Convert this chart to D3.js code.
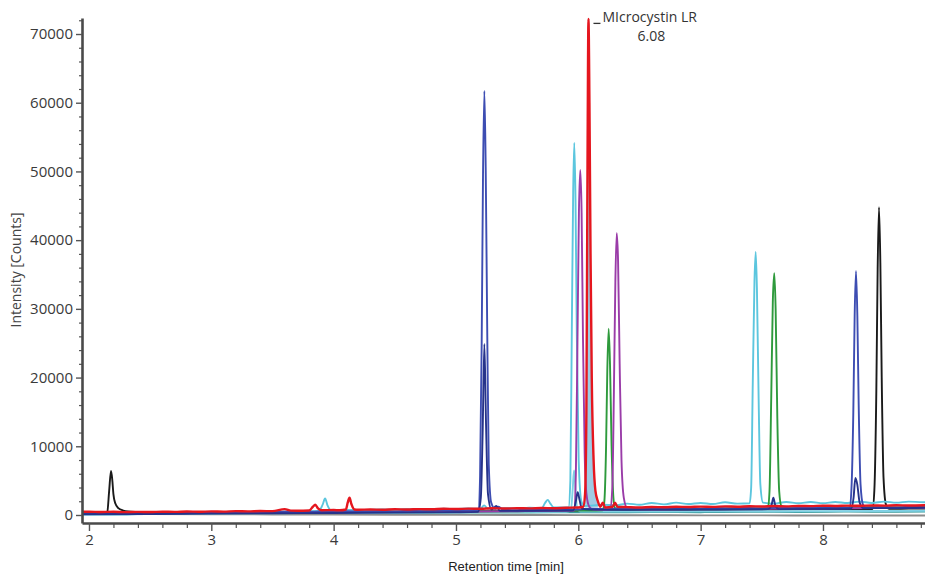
<!DOCTYPE html>
<html>
<head>
<meta charset="utf-8">
<script src="https://cdn.jsdelivr.net/npm/d3@7"></script>
<style>
  html, body { margin: 0; padding: 0; background: #fff; }
  svg { display: block; }
</style>
</head>
<body>
<svg id="chart" width="925" height="575"></svg>
<script>
// ---------- data (retention time [min], intensity [counts]) ----------
const xMajorTicks = [2, 3, 4, 5, 6, 7, 8];
const yMajorTicks = [0, 10000, 20000, 30000, 40000, 50000, 60000, 70000];
const peakLabel = ["MIcrocystin LR", "6.08"];
const peakLabelPoint = [6.083, 72200];
const fillRange = [6.05, 6.16];
const fillBase = 1100;

const grayTrace = [[1.943,150],[2.5,120],[3.0,100],[3.5,80],[4.0,60],[4.5,40],[5.0,20],[5.5,0],[6.0,-20],[6.5,-40],[7.0,-50],[7.5,-60],[8.0,-70],[8.5,-80],[8.834,-80]];
const tealTrace = [[1.943,250],[2.3,230],[2.7,290],[3.0,260],[3.4,320],[3.8,290],[4.2,340],[4.6,310],[5.0,360],[5.4,340],[5.8,400],[6.2,380],[6.6,430],[7.0,410],[7.4,460],[7.8,440],[8.2,490],[8.6,470],[8.834,500]];
const blackTrace = [[1.943,250],[2.0,300],[2.1,280],[2.13,300],[2.15,500],[2.165,3500],[2.18,6400],[2.19,5200],[2.2,3000],[2.215,1700],[2.24,1000],[2.28,650],[2.32,500],[2.4,420],[2.5,350],[2.6,380],[2.75,300],[2.9,370],[3.0,350],[3.1,420],[3.25,300],[3.4,380],[3.5,420],[3.75,380],[3.9,450],[4.0,420],[4.25,450],[4.5,480],[4.75,500],[5.0,520],[5.25,560],[5.5,600],[5.75,620],[6.0,650],[6.25,680],[6.5,700],[6.75,720],[7.0,750],[7.25,780],[7.5,800],[7.75,820],[8.0,850],[8.25,870],[8.405,880],[8.42,3600],[8.436,17900],[8.447,35800],[8.458,44800],[8.469,36700],[8.48,20200],[8.495,5400],[8.515,1500],[8.54,900],[8.7,920],[8.834,950]];
const lightCyanTrace = [[1.943,100],[2.5,150],[3.0,200],[3.5,250],[4.0,300],[4.5,350],[5.0,400],[5.5,420],[5.9,450],[5.94,800],[5.955,4000],[5.965,6500],[5.975,4500],[5.99,1000],[6.02,500],[6.5,500],[7.0,520],[7.5,540],[8.0,560],[8.5,580],[8.834,600]];
const cyanTrace = [[1.943,50],[2.25,50],[2.5,200],[2.75,250],[2.85,400],[3.0,300],[3.25,350],[3.5,450],[3.75,550],[3.88,600],[3.91,1500],[3.93,2400],[3.95,1400],[3.98,650],[4.1,750],[4.25,700],[4.4,820],[4.5,750],[4.6,850],[4.75,800],[4.9,900],[5.0,850],[5.1,950],[5.2,900],[5.23,1400],[5.26,900],[5.4,1000],[5.5,950],[5.6,1050],[5.7,1000],[5.73,1800],[5.75,2200],[5.77,1700],[5.8,1100],[5.92,1100],[5.935,5000],[5.947,27000],[5.958,47000],[5.967,54200],[5.977,46000],[5.988,26000],[6.003,8000],[6.025,2000],[6.05,1300],[6.2,1500],[6.3,1400],[6.4,1650],[6.5,1500],[6.6,1750],[6.7,1550],[6.8,1800],[6.9,1600],[7.0,1750],[7.1,1600],[7.2,1850],[7.3,1650],[7.4,1700],[7.413,4000],[7.426,19000],[7.44,34000],[7.45,38300],[7.46,33000],[7.474,17000],[7.488,4500],[7.51,1800],[7.6,1650],[7.7,1900],[7.8,1700],[7.9,1900],[8.0,1700],[8.1,1900],[8.2,1750],[8.3,1950],[8.4,1750],[8.5,1950],[8.6,1800],[8.7,1950],[8.834,1850]];
const greenTrace = [[1.943,150],[2.5,200],[3.0,300],[3.5,350],[4.0,400],[4.5,450],[5.0,500],[5.5,550],[6.0,650],[6.2,700],[6.213,2000],[6.227,10000],[6.237,21000],[6.248,27100],[6.259,22000],[6.272,10000],[6.287,2500],[6.3,1000],[6.4,850],[6.5,800],[6.7,950],[7.0,900],[7.3,1000],[7.5,950],[7.55,1000],[7.563,3500],[7.577,17000],[7.59,31000],[7.602,35200],[7.613,30000],[7.627,14000],[7.642,3500],[7.66,1300],[7.7,1000],[8.0,1050],[8.3,1150],[8.5,1100],[8.834,1150]];
const purpleTrace = [[1.943,200],[2.5,250],[3.0,300],[3.5,350],[4.0,400],[4.5,450],[5.0,500],[5.5,550],[5.9,600],[5.965,650],[5.98,6000],[5.993,25000],[6.005,44000],[6.016,50200],[6.027,44000],[6.038,26000],[6.052,9000],[6.067,3000],[6.09,1200],[6.12,800],[6.2,750],[6.26,800],[6.278,4000],[6.291,18000],[6.303,34000],[6.314,41000],[6.325,37000],[6.338,22000],[6.353,8000],[6.372,2500],[6.4,1000],[6.5,800],[7.0,850],[7.5,900],[8.0,950],[8.5,1000],[8.834,1000]];
const blueTrace = [[1.943,150],[2.1,250],[2.25,200],[2.4,280],[2.5,150],[2.6,260],[2.75,250],[2.9,350],[3.0,300],[3.1,400],[3.25,350],[3.4,450],[3.5,400],[3.6,480],[3.75,420],[3.9,520],[4.0,450],[4.1,550],[4.25,500],[4.4,580],[4.5,520],[4.6,620],[4.75,550],[4.9,650],[5.0,600],[5.1,680],[5.17,650],[5.184,700],[5.197,5600],[5.21,24700],[5.221,49400],[5.232,61700],[5.243,50600],[5.255,27800],[5.268,7400],[5.288,1800],[5.32,900],[5.35,1200],[5.38,800],[5.5,700],[5.6,820],[5.75,750],[5.85,880],[6.0,800],[6.1,920],[6.25,850],[6.35,950],[6.5,850],[6.6,980],[6.75,900],[6.85,1000],[7.0,900],[7.1,1020],[7.25,950],[7.35,1050],[7.5,950],[7.65,1070],[7.75,1000],[7.9,1100],[8.0,1000],[8.1,1120],[8.2,1050],[8.218,1100],[8.233,3900],[8.248,15000],[8.259,29000],[8.27,35500],[8.281,29000],[8.292,16000],[8.307,4500],[8.327,1500],[8.35,1050],[8.45,1150],[8.6,1100],[8.7,1200],[8.834,1150]];
const navyTrace = [[1.943,100],[2.5,150],[3.0,200],[3.5,250],[4.0,300],[4.5,350],[5.0,400],[5.18,450],[5.203,2500],[5.218,12000],[5.232,24900],[5.246,13000],[5.262,3000],[5.29,800],[5.33,1300],[5.36,600],[5.6,600],[5.9,650],[5.96,700],[5.98,2000],[5.995,3300],[6.01,2200],[6.03,900],[6.1,800],[6.4,750],[6.8,800],[7.2,800],[7.55,850],[7.58,1500],[7.595,2500],[7.61,1400],[7.64,850],[8.0,900],[8.23,950],[8.25,2500],[8.265,5400],[8.28,4500],[8.3,1800],[8.33,1000],[8.6,1000],[8.834,1050]];
const redTrace = [[1.943,480],[2.0,480],[2.1,430],[2.2,470],[2.3,420],[2.4,460],[2.5,430],[2.6,480],[2.7,450],[2.8,500],[2.9,470],[3.0,520],[3.1,490],[3.2,560],[3.3,520],[3.4,580],[3.5,560],[3.6,850],[3.65,640],[3.7,620],[3.8,660],[3.83,1200],[3.85,1500],[3.87,1000],[3.9,700],[4.0,720],[4.05,680],[4.1,800],[4.115,1800],[4.13,2500],[4.145,1600],[4.17,800],[4.2,760],[4.3,800],[4.4,770],[4.5,830],[4.6,800],[4.7,860],[4.8,830],[4.9,900],[5.0,870],[5.1,920],[5.2,900],[5.3,980],[5.4,940],[5.5,990],[5.6,960],[5.7,1020],[5.8,990],[5.9,1060],[6.0,1100],[6.04,1200],[6.055,3000],[6.066,15000],[6.075,50000],[6.083,72200],[6.091,60000],[6.1,38000],[6.11,20000],[6.125,8000],[6.14,3500],[6.16,2000],[6.18,1200],[6.2,1800],[6.22,1100],[6.28,1200],[6.3,1800],[6.32,1200],[6.4,1150],[6.5,1100],[6.6,1160],[6.7,1130],[6.8,1190],[6.9,1160],[7.0,1220],[7.1,1180],[7.2,1250],[7.3,1210],[7.4,1270],[7.5,1240],[7.6,1300],[7.7,1260],[7.8,1320],[7.9,1290],[8.0,1350],[8.1,1320],[8.2,1370],[8.3,1340],[8.4,1390],[8.5,1360],[8.6,1410],[8.7,1380],[8.834,1420]];

const seriesNames = ["gray","teal","black","lightCyan","cyan","green","purple","blue","navy","red"];
const seriesData = [grayTrace, tealTrace, blackTrace, lightCyanTrace, cyanTrace, greenTrace, purpleTrace, blueTrace, navyTrace, redTrace];
const seriesColors = ["#8c8c8c","#3a9c9c","#1a1a1a","#7fd0e4","#5cc6de","#2e9a3c","#9a3ca8","#3d4db2","#26338a","#e5161e"];

// ---------- layout ----------
const svg = d3.select("#chart");
const mLeft = 82, mRight = 925, mTop = 18, mBottom = 523;
const x = d3.scaleLinear().domain([1.943, 8.834]).range([mLeft, mRight]);
const y = d3.scaleLinear().domain([-1165, 72330]).range([mBottom, mTop]);

svg.append("defs").append("clipPath").attr("id", "plotClip")
  .append("rect").attr("x", mLeft).attr("y", mTop - 2).attr("width", mRight - mLeft).attr("height", mBottom - mTop + 1);

const plot = svg.append("g").attr("clip-path", "url(#plotClip)");

// integration fill under the Microcystin LR peak
const fillPts = redTrace.filter(d => d[0] >= fillRange[0] && d[0] <= fillRange[1]);
plot.append("path")
  .datum(fillPts)
  .attr("fill", "#9fcbe4")
  .attr("d", d3.area().curve(d3.curveMonotoneX)
    .x(d => x(d[0])).y0(y(fillBase)).y1(d => y(d[1])));

const line = d3.line().curve(d3.curveMonotoneX).x(d => x(d[0])).y(d => y(d[1]));
seriesData.forEach((s, i) => {
  plot.append("path")
    .datum(s)
    .attr("fill", "none")
    .attr("stroke", seriesColors[i])
    .attr("stroke-width", seriesNames[i] === "red" ? 2.4 : 1.9)
    .attr("stroke-linejoin", "round")
    .attr("d", line);
});

// ---------- axes ----------
const tickFont = "'Open Sans', 'DejaVu Sans', sans-serif";
const yMinor = d3.range(0, 37).map(i => i * 2000).filter(v => v % 10000 !== 0);
const xMinor = d3.range(10, 45).map(i => i / 5).filter(v => Math.abs(v - Math.round(v)) > 1e-6);

// minor ticks
svg.append("g").attr("transform", `translate(${mLeft},0)`)
  .call(d3.axisLeft(y).tickValues(yMinor).tickSize(3).tickFormat(""))
  .call(g => g.select(".domain").remove())
  .selectAll("line").attr("stroke", "#555").attr("stroke-width", 1.2);
svg.append("g").attr("transform", `translate(0,${mBottom})`)
  .call(d3.axisBottom(x).tickValues(xMinor).tickSize(5).tickFormat(""))
  .call(g => g.select(".domain").remove())
  .selectAll("line").attr("stroke", "#555").attr("stroke-width", 1.2);

// major ticks
const yAxis = svg.append("g").attr("transform", `translate(${mLeft},0)`)
  .call(d3.axisLeft(y).tickValues(yMajorTicks).tickSize(6).tickSizeOuter(0).tickFormat(d3.format("d")));
yAxis.select(".domain").attr("stroke", "#4a4a4a").attr("stroke-width", 2.6);
yAxis.selectAll(".tick line").attr("stroke", "#555").attr("stroke-width", 1.4);
yAxis.selectAll(".tick text").attr("fill", "#3a3a3a").style("font-family", tickFont).style("font-size", "15px").attr("x", -9);

const xAxis = svg.append("g").attr("transform", `translate(0,${mBottom})`)
  .call(d3.axisBottom(x).tickValues(xMajorTicks).tickSize(8).tickSizeOuter(0).tickFormat(d3.format("d")));
xAxis.select(".domain").attr("stroke", "#4a4a4a").attr("stroke-width", 2.6);
xAxis.selectAll(".tick line").attr("stroke", "#555").attr("stroke-width", 1.4);
xAxis.selectAll(".tick text").attr("fill", "#3a3a3a").style("font-family", tickFont).style("font-size", "15px").attr("y", 11);

// axis titles
svg.append("text")
  .attr("transform", "translate(21,270) rotate(-90)")
  .attr("text-anchor", "middle")
  .attr("fill", "#444")
  .style("font-family", tickFont).style("font-size", "14px")
  .text("Intensity [Counts]");
svg.append("text")
  .attr("x", 506).attr("y", 571)
  .attr("text-anchor", "middle")
  .attr("fill", "#222")
  .style("font-family", "'Liberation Sans', Arial, sans-serif").style("font-size", "13px")
  .text("Retention time [min]");

// peak annotation
const ax = x(peakLabelPoint[0]), ay = y(peakLabelPoint[1]);
svg.append("line")
  .attr("x1", ax + 5).attr("x2", ax + 12).attr("y1", ay + 4.5).attr("y2", ay + 4.5)
  .attr("stroke", "#333").attr("stroke-width", 1.3);
svg.append("text")
  .attr("x", ax + 14).attr("y", ay + 3)
  .attr("fill", "#333")
  .style("font-family", tickFont).style("font-size", "14px")
  .text(peakLabel[0]);
svg.append("text")
  .attr("x", ax + 63).attr("y", ay + 22)
  .attr("text-anchor", "middle")
  .attr("fill", "#333")
  .style("font-family", tickFont).style("font-size", "14px")
  .text(peakLabel[1]);
</script>
</body>
</html>
